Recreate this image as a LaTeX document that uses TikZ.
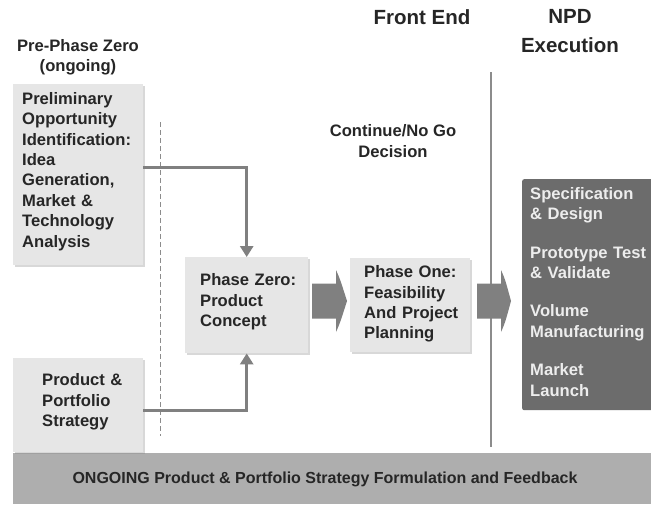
\documentclass[tikz,border=0pt]{standalone}
\usepackage{fontspec}
\setmainfont{Liberation Sans}
\usetikzlibrary{arrows.meta,shadows}
\definecolor{boxfill}{HTML}{E6E6E6}
\definecolor{barfill}{HTML}{AEAEAE}
\definecolor{darkfill}{HTML}{6C6C6C}
\definecolor{darktext}{HTML}{EDEDED}
\definecolor{inktext}{HTML}{262626}
\definecolor{linkgray}{HTML}{808080}
\definecolor{rulegray}{HTML}{8C8C8C}
\newcommand\bodyfont{\fontsize{16}{20.4}\selectfont\bfseries}
\newcommand\boxfont{\fontsize{16.6}{20.4}\selectfont\bfseries}
\newcommand\headfont{\fontsize{20.5}{29}\selectfont\bfseries}
\newcommand\ind[1]{\hspace*{#1}}
% block arrow: shaft start, head base, tip, centre line
\newcommand\blkarrow[4]{%
  \fill[linkgray] (#1,#4-17.5) -- (#2,#4-17.5) -- (#2,#4-31)
    .. controls (#2+4,#4-22) .. (#3,#4)
    .. controls (#2+4,#4+22) .. (#2,#4+31)
    -- (#2,#4+17.5) -- (#1,#4+17.5) -- cycle;}
\tikzset{
  lbox/.style={draw=none, fill=boxfill, anchor=north west, align=left,
    inner ysep=0pt, inner xsep=8pt, text=inktext, font=\boxfont,
    drop shadow={shadow xshift=1.5pt, shadow yshift=-1.5pt, opacity=0.3}},
  dbox/.style={fill=darkfill, rounded corners=2pt, anchor=north west, align=left,
    inner ysep=0pt, inner xsep=8pt, text=darktext, font=\boxfont},
  heading/.style={align=center, text=inktext, inner sep=0pt},
  link/.style={draw=linkgray, line width=3.2pt,
    -{Triangle[width=13pt,length=11pt]}},
}
\begin{document}
\begin{tikzpicture}[x=1pt, y=-1pt]
\useasboundingbox (0,0) rectangle (651,504);
\fill[white] (0,0) rectangle (651,504);

% section headings
\node[heading, font=\boxfont] (prehead) at (78,57) {Pre-Phase Zero\\(ongoing)};
\node[heading, font=\headfont] (fehead) at (422,17) {Front End};
\node[heading, font=\headfont] (npdhead) at (570,31) {NPD\\Execution};
\node[heading, font=\boxfont] (decision) at (393,141) {Continue/No Go\\Decision};

% divider lines
\draw[rulegray, line width=1pt, dash pattern=on 5pt off 3pt] (160,122) -- (160,436);
\draw[rulegray, line width=1.2pt] (491,72) -- (491,447);

% ongoing feedback bar
\fill[barfill] (13,453) rectangle (651,504);
\node[heading, font=\bodyfont] (ongoing) at (325,479)
  {ONGOING Product \& Portfolio Strategy Formulation and Feedback};

% boxes
\node[lbox, minimum width=130pt, minimum height=181pt, text width=114pt]
  (prelim) at (13,84)
  {\ind{1pt}Preliminary\\\ind{1pt}Opportunity\\\ind{1pt}Identification:\\\ind{1pt}Idea\\\ind{1pt}Generation,\\\ind{1pt}Market \&\\\ind{1pt}Technology\\\ind{1pt}Analysis\rule[-10pt]{0pt}{0pt}};
\node[lbox, minimum width=130pt, minimum height=94pt, text width=114pt]
  (strategy) at (13,358)
  {\ind{21pt}Product \&\\\ind{21pt}Portfolio\\\ind{21pt}Strategy\rule[-10pt]{0pt}{0pt}};
\node[lbox, minimum width=123pt, minimum height=96pt, text width=107pt]
  (pzero) at (185,257)
  {\ind{7pt}Phase Zero:\\\ind{7pt}Product\\\ind{7pt}Concept\rule[-10pt]{0pt}{0pt}};
\node[lbox, minimum width=120pt, minimum height=94pt, text width=104pt]
  (pone) at (350,258)
  {\ind{6pt}Phase One:\\\ind{6pt}Feasibility\\\ind{6pt}And Project\\\ind{6pt}Planning\rule[-6pt]{0pt}{0pt}};
\node[dbox, minimum width=135pt, minimum height=231pt, text width=125pt]
  (npd) at (522,179)
  {Specification\\\& Design\\[18pt]Prototype Test\\\& Validate\\[18pt]Volume\\Manufacturing\\[18pt]Market\\Launch\rule[-6pt]{0pt}{0pt}};

% feeds into phase zero
\draw[link] ([yshift=7.5pt]prelim.east) -| (pzero.north);
\draw[link] ([yshift=-5pt]strategy.east) -| (pzero.south);

% stage transitions
\blkarrow{312}{336}{347}{301}
\blkarrow{477}{501}{511}{301}
\end{tikzpicture}
\end{document}
